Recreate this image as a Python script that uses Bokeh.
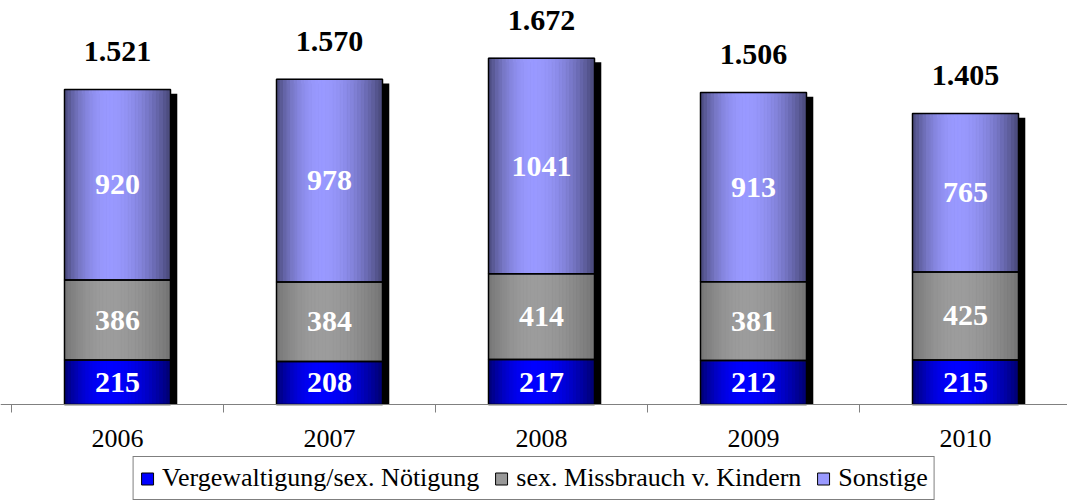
import math
from bokeh.plotting import figure
from bokeh.models import Legend, LegendItem, Range1d, Span
from bokeh.embed import file_html
from bokeh.resources import INLINE

years = ["2006", "2007", "2008", "2009", "2010"]
vergewaltigung = [215, 208, 217, 212, 215]
missbrauch = [386, 384, 414, 381, 425]
sonstige = [920, 978, 1041, 913, 765]
series_names = ["Vergewaltigung/sex. Nötigung", "sex. Missbrauch v. Kindern", "Sonstige"]

FONT = "Liberation Serif"
BAR_W = 0.5
N_STRIPS = 30

# colour ramps for cylinder look: (edge colour, peak colour)
ramps = [((0x00, 0x00, 0x70), (0x00, 0x00, 0xff)),
         ((0x74, 0x74, 0x74), (0x9c, 0x9c, 0x9c)),
         ((0x48, 0x48, 0x78), (0x99, 0x99, 0xff))]
legend_colors = ["#0000ff", "#999999", "#9999ff"]

xs = list(range(len(years)))
totals = [a + b + c for a, b, c in zip(vergewaltigung, missbrauch, sonstige)]
series = [vergewaltigung, missbrauch, sonstige]

W, H = 1067, 501
PX_PER_CAT = 212.0
PX_PER_UNIT = 0.2071
x0 = -0.5 - 11 / PX_PER_CAT
y0 = -(H - 404) / PX_PER_UNIT
p = figure(width=W, height=H, output_backend="svg", toolbar_location=None,
           x_range=Range1d(x0, x0 + W / PX_PER_CAT),
           y_range=Range1d(y0, y0 + H / PX_PER_UNIT),
           min_border_left=0, min_border_right=0, min_border_top=0, min_border_bottom=0)
p.outline_line_color = None
p.xgrid.visible = False
p.ygrid.visible = False
p.xaxis.visible = False
p.yaxis.visible = False
p.background_fill_color = "white"

# shadows
sh_dx = 0.032
sh_dy = 20
p.vbar(x=[x + sh_dx for x in xs], bottom=0, top=[t - sh_dy for t in totals],
       width=BAR_W, fill_color="black", line_color=None)

def ramp_color(edge, peak, t):
    c = 0.42
    d = (t - c) / (c if t < c else (1 - c))
    b = max(0.0, 1 - d * d)
    return "#%02x%02x%02x" % tuple(int(round(e + (pk - e) * b)) for e, pk in zip(edge, peak))

bottoms = [0] * len(xs)
seg_bounds = []
for si, vals in enumerate(series):
    edge, peak = ramps[si]
    tops = [b + v for b, v in zip(bottoms, vals)]
    sx, sb, st, sc = [], [], [], []
    for i, x in enumerate(xs):
        for k in range(N_STRIPS):
            t = (k + 0.5) / N_STRIPS
            left = x - BAR_W / 2 + k * BAR_W / N_STRIPS
            sx.append(left + BAR_W / N_STRIPS / 2)
            sb.append(bottoms[i])
            st.append(tops[i])
            sc.append(ramp_color(edge, peak, t))
    p.vbar(x=sx, bottom=sb, top=st, width=BAR_W / N_STRIPS,
           fill_color=sc, line_color=sc, line_width=1)
    seg_bounds.append((list(bottoms), tops))
    bottoms = tops

# axis line and boundary ticks
p.add_layout(Span(location=0, dimension="width", line_color="#808080", line_width=1))
bounds = [x - 0.5 for x in xs] + [xs[-1] + 0.5]
p.ray(x=bounds, y=[0] * len(bounds), length=8, length_units="screen",
      angle=-math.pi / 2, line_color="#808080", line_width=1)

# legend proxy renderers (zero height at the baseline)
legend_renderers = []
for col in legend_colors:
    r = p.vbar(x=xs, bottom=[0] * len(xs), top=[0] * len(xs), width=BAR_W,
               fill_color=col, line_color="black", line_width=1)
    legend_renderers.append(r)

# outlines
for (bots, tops) in seg_bounds:
    p.vbar(x=xs, bottom=bots, top=tops, width=BAR_W, fill_color=None,
           line_color="black", line_width=1.5)

# segment value labels
for si, vals in enumerate(series):
    bots, tops = seg_bounds[si]
    mids = [(b + t) / 2 for b, t in zip(bots, tops)]
    p.text(x=xs, y=mids, text=[str(v) for v in vals], text_color="white",
           text_font=FONT, text_font_style="bold", text_font_size="30px",
           text_align="center", text_baseline="middle")

# totals
p.text(x=xs, y=totals, text=[f"{t:,}".replace(",", ".") for t in totals],
       text_color="black", text_font=FONT, text_font_style="bold",
       text_font_size="30px", text_align="center", text_baseline="middle",
       y_offset=-38)

# year labels
p.text(x=xs, y=[0] * len(xs), text=years, text_color="black", text_font=FONT,
       text_font_size="26px", text_align="center", text_baseline="middle",
       y_offset=34)

# legend
items = [LegendItem(label=name, renderers=[r]) for name, r in zip(series_names, legend_renderers)]
legend = Legend(items=items, orientation="horizontal", location="bottom_center",
                label_text_font=FONT, label_text_font_size="26px", label_text_color="black",
                glyph_width=15, glyph_height=15, label_standoff=8, spacing=14,
                padding=6, margin=1, border_line_color="black", border_line_width=1,
                label_height=26, background_fill_color="white", background_fill_alpha=1)
p.add_layout(legend, "center")

open("out.html", "w").write(file_html(p, INLINE))
